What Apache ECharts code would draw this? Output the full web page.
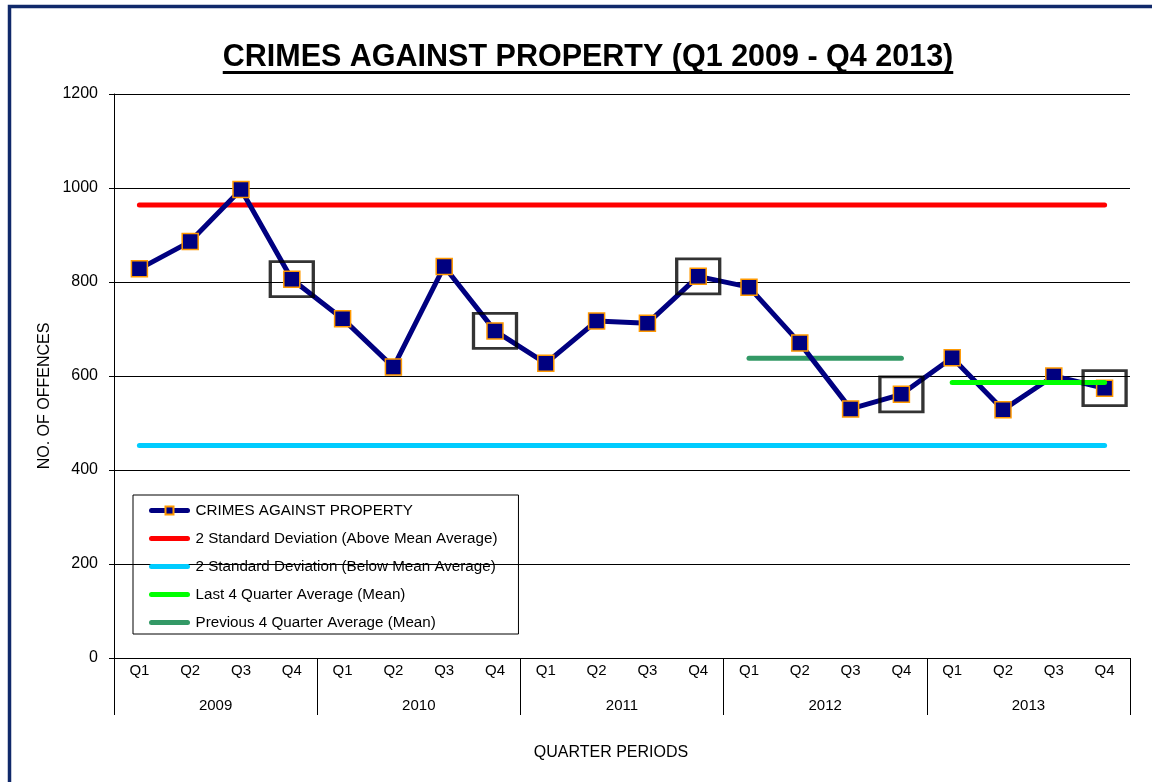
<!DOCTYPE html>
<html>
<head>
<meta charset="utf-8">
<script src="https://cdn.jsdelivr.net/npm/echarts@6/dist/echarts.min.js"></script>
<style>
  html, body { margin: 0; padding: 0; background: #fff; }
  #chart { width: 1152px; height: 782px; }
</style>
</head>
<body>
<div id="chart"></div>
<script>
// data
var years = ['2009', '2010', '2011', '2012', '2013'];
var quarters = ['Q1', 'Q2', 'Q3', 'Q4'];
var propertyCrimes = [828, 886, 997, 806, 722, 619, 833, 696, 627, 717, 712, 812, 789, 670, 530, 561, 639, 528, 600, 574];
var upperLimit = 964;   // 2 SD above mean
var lowerLimit = 452;   // 2 SD below mean
var last4Avg = 586;     // 2013 Q1 - Q4
var prev4Avg = 638;     // 2012 Q1 - Q4
var yTicks = [0, 200, 400, 600, 800, 1000, 1200];

var titleText = 'CRIMES AGAINST PROPERTY (Q1 2009 - Q4 2013)';
var FONT = '"Liberation Sans", Arial, sans-serif';

// categories like "2009-Q1"
var categories = [];
years.forEach(function (y) {
  quarters.forEach(function (q) { categories.push(y + '-' + q); });
});

// hollow boxes round each Q4 value
var q4Boxes = [];
categories.forEach(function (c, i) {
  if (c.slice(-2) === 'Q4') q4Boxes.push([c, propertyCrimes[i]]);
});

var first = categories[0];
var last = categories[categories.length - 1];
var prevStart = '2012-Q1', prevEnd = '2012-Q4';
var lastStart = '2013-Q1', lastEnd = '2013-Q4';

// measure title for the underline
var cv = document.createElement('canvas').getContext('2d');
cv.font = 'bold 30.5px ' + FONT;
var titleW = cv.measureText(titleText).width;
var titleX = 588;

var chart = echarts.init(document.getElementById('chart'));
var refLine = function (name, color, data, z) {
  return {
    name: name,
    type: 'line',
    xAxisIndex: 0,
    data: data,
    symbol: 'none',
    silent: true,
    z: z,
    lineStyle: { color: color, width: 5, cap: 'round' },
    itemStyle: { color: color }
  };
};
var noDot = { opacity: 0 };

var option = {
  animation: false,
  textStyle: { fontFamily: FONT },
  graphic: [
    {
      type: 'rect',
      shape: { x: 9.5, y: 6.5, width: 1300, height: 900 },
      style: { fill: 'none', stroke: '#10296a', lineWidth: 3.5 },
      silent: true
    },
    {
      type: 'text',
      x: titleX, y: 58,
      style: {
        text: titleText,
        font: 'bold 30.5px ' + FONT,
        fill: '#000',
        align: 'center',
        verticalAlign: 'middle'
      }
    },
    {
      type: 'line',
      shape: { x1: titleX - titleW / 2, y1: 72.5, x2: titleX + titleW / 2, y2: 72.5 },
      style: { stroke: '#000', lineWidth: 3 }
    },
    {
      type: 'text',
      x: 45, y: 396,
      rotation: Math.PI / 2,
      style: {
        text: 'NO. OF OFFENCES',
        font: '16px ' + FONT,
        fill: '#000',
        align: 'center',
        verticalAlign: 'middle'
      }
    },
    {
      type: 'text',
      x: 611, y: 753,
      style: {
        text: 'QUARTER PERIODS',
        font: '16px ' + FONT,
        fill: '#000',
        align: 'center',
        verticalAlign: 'middle'
      }
    }
  ],
  grid: { left: 114, right: 22, top: 94, bottom: 124 },
  legend: {
    orient: 'vertical',
    left: 133,
    top: 495,
    data: [
      { name: 'CRIMES AGAINST PROPERTY' },
      { name: '2 Standard Deviation (Above Mean Average)', itemStyle: noDot },
      { name: '2 Standard Deviation (Below Mean Average)', itemStyle: noDot },
      { name: 'Last 4 Quarter Average (Mean)', itemStyle: noDot },
      { name: 'Previous 4 Quarter Average (Mean)', itemStyle: noDot }
    ],
    borderColor: '#000',
    borderWidth: 1,
    padding: [8, 21, 4, 16],
    itemGap: 13,
    itemWidth: 36,
    itemHeight: 10,
    lineStyle: { width: 5, cap: 'round' },
    selectedMode: false,
    textStyle: { color: '#000', fontSize: 15.2, fontFamily: FONT, padding: [0, 0, 0, 3] }
  },
  xAxis: [
    {
      type: 'category',
      data: categories,
      position: 'bottom',
      boundaryGap: true,
      axisLine: { lineStyle: { color: '#000', width: 1 } },
      axisTick: { length: 32, lineStyle: { color: '#000' } },
      axisLabel: {
        color: '#000', fontSize: 15, margin: 5, interval: 0,
        formatter: function (v) { return v.split('-')[1]; }
      },
      splitLine: { show: false }
    },
    {
      type: 'category',
      data: years,
      position: 'bottom',
      boundaryGap: true,
      axisLine: { show: false },
      axisTick: { show: true, length: 57, lineStyle: { color: '#000' } },
      axisLabel: { color: '#000', fontSize: 15, margin: 40, interval: 0 }
    }
  ],
  yAxis: {
    type: 'value',
    min: yTicks[0],
    max: yTicks[yTicks.length - 1],
    interval: yTicks[1] - yTicks[0],
    axisLine: { show: true, lineStyle: { color: '#000' } },
    axisTick: { show: true, length: 5, lineStyle: { color: '#000' } },
    axisLabel: {
      color: '#000', fontSize: 16, margin: 16,
      formatter: function (v) { return String(v); }
    },
    splitLine: { lineStyle: { color: '#000', width: 1 } }
  },
  series: [
    refLine('2 Standard Deviation (Above Mean Average)', '#ff0000', [[first, upperLimit], [last, upperLimit]], 2),
    refLine('2 Standard Deviation (Below Mean Average)', '#00ccff', [[first, lowerLimit], [last, lowerLimit]], 2),
    refLine('Previous 4 Quarter Average (Mean)', '#339966', [[prevStart, prev4Avg], [prevEnd, prev4Avg]], 2),
    {
      name: 'CRIMES AGAINST PROPERTY',
      type: 'line',
      xAxisIndex: 0,
      data: propertyCrimes,
      symbol: 'rect',
      symbolSize: 16,
      z: 3,
      lineStyle: { color: '#000080', width: 5 },
      itemStyle: { color: '#000080', borderColor: '#ff9900', borderWidth: 1.5 }
    },
    refLine('Last 4 Quarter Average (Mean)', '#00ff00', [[lastStart, last4Avg], [lastEnd, last4Avg]], 4),
    {
      name: 'Q4 markers',
      type: 'scatter',
      xAxisIndex: 0,
      data: q4Boxes,
      symbol: 'rect',
      symbolSize: [43, 35],
      silent: true,
      z: 5,
      itemStyle: { color: 'rgba(0,0,0,0)', borderColor: '#000', borderWidth: 3 }
    }
  ]
};
chart.setOption(option);
</script>
</body>
</html>
